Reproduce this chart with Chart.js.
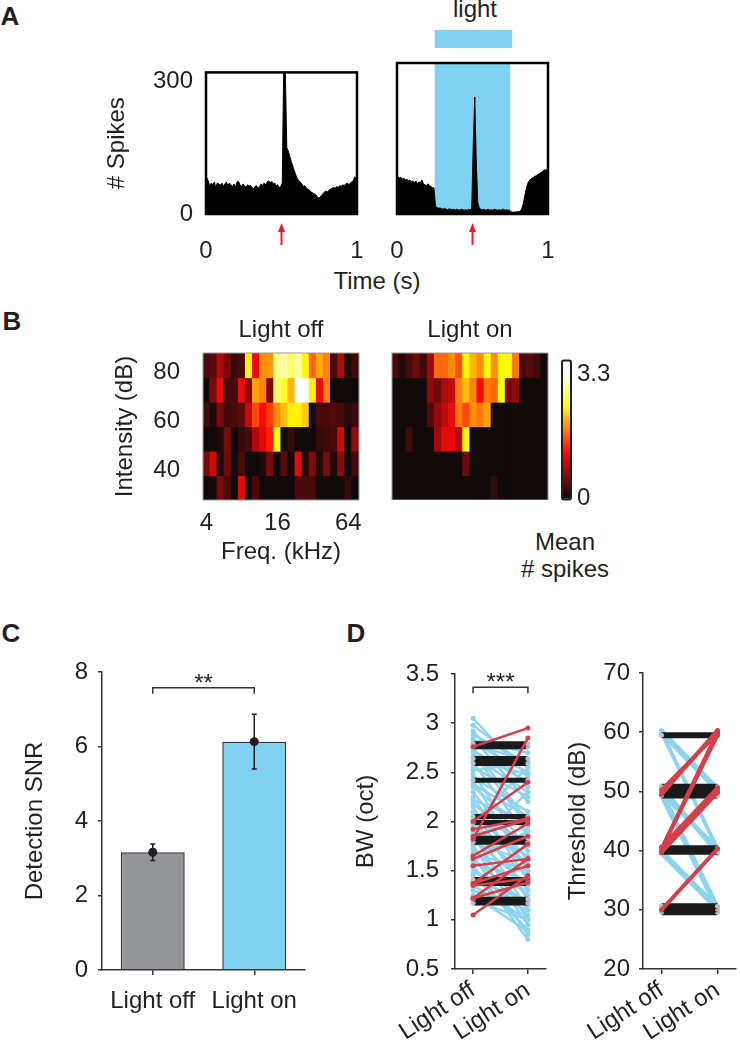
<!DOCTYPE html>
<html>
<head>
<meta charset="utf-8">
<title>Light effects on auditory responses</title>
<script src="https://cdn.jsdelivr.net/npm/chart.js@4.4.1/dist/chart.umd.min.js"></script>
<style>
  html, body { margin: 0; padding: 0; background: #fff; }
  #fig { position: relative; width: 740px; height: 1050px; overflow: hidden;
         font-family: "Liberation Sans", Arial, Helvetica, sans-serif; color: #231f20; }
  #fig canvas { position: absolute; }
  .lbl { position: absolute; font-size: 24px; line-height: 1; white-space: nowrap; transform: translate(-50%, -50%); }
  .panel { position: absolute; font-size: 26px; font-weight: bold; line-height: 1; transform: translate(-50%, -50%); }
</style>
</head>
<body>
<div id="fig">
  <div class="panel" style="left:10px; top:16px">A</div>
  <div class="panel" style="left:12px; top:321px">B</div>
  <div class="panel" style="left:11px; top:633px">C</div>
  <div class="panel" style="left:356px; top:633px">D</div>

  <div class="lbl" style="left:475px; top:9px">light</div>
  <div class="lbl" style="left:377px; top:281px">Time (s)</div>
  <div class="lbl" style="left:565px; top:542px">Mean</div>
  <div class="lbl" style="left:565px; top:569px"># spikes</div>

  <canvas id="psthOff" width="275" height="225" style="left:95px; top:45px"></canvas>
  <canvas id="psthOn" width="190" height="270" style="left:380px; top:0px"></canvas>
  <canvas id="tuneOff" width="265" height="256" style="left:100px; top:314px"></canvas>
  <canvas id="tuneOn" width="170" height="186" style="left:380px; top:314px"></canvas>
  <canvas id="colorBar" width="80" height="180" style="left:540px; top:340px"></canvas>
  <canvas id="snrChart" width="320" height="450" style="left:0px; top:600px"></canvas>
  <canvas id="bwChart" width="215" height="450" style="left:340px; top:600px"></canvas>
  <canvas id="thrChart" width="180" height="450" style="left:560px; top:600px"></canvas>
</div>

<script>
// ---------- data ----------

// A: PSTHs, 10 ms bins over 1 s
const binWidth = 0.01;
const timeTicks = [0, 1];
const spikeTicks = [0, 300];
const soundOnset = 0.5;
const lightWindow = [0.25, 0.75];
const psthLightOff = [
  82, 75, 62, 70, 66, 72, 60, 70, 68, 65,
  70, 63, 68, 72, 64, 70, 66, 62, 68, 60,
  72, 74, 66, 62, 68, 64, 60, 66, 63, 65,
  60, 56, 62, 64, 58, 62, 68, 64, 70, 66,
  72, 75, 70, 74, 68, 70, 64, 66, 60, 62,
  70, 340, 330, 150, 142, 130, 118, 108, 98, 88,
  80, 75, 72, 68, 62, 64, 58, 56, 54, 50,
  48, 46, 44, 40, 36, 38, 42, 46, 50, 52,
  50, 54, 56, 58, 60, 58, 62, 60, 64, 62,
  66, 64, 68, 70, 66, 70, 72, 76, 84, 80
];
const psthLightOn = [
  80, 76, 78, 74, 76, 72, 74, 70, 72, 68,
  70, 66, 70, 64, 68, 66, 72, 64, 62, 60,
  64, 60, 58, 56, 55, 16, 14, 12, 13, 11,
  10, 12, 10, 9, 11, 10, 9, 10, 8, 10,
  9, 8, 10, 9, 8, 9, 8, 10, 9, 12,
  150, 248, 110, 25, 12, 10, 9, 10, 8, 9,
  10, 8, 9, 8, 10, 9, 8, 9, 8, 9,
  10, 8, 9, 8, 8, 5, 4, 4, 4, 5,
  5, 6, 10, 20, 36, 52, 64, 70, 74, 76,
  78, 80, 82, 84, 86, 88, 90, 94, 92, 96
];

// B: frequency-intensity tuning (mean # spikes), rows from loudest to softest
const freqLabels = ['4', '4.6', '5.3', '6.1', '7', '8', '9.2', '10.6', '12.1', '13.9', '16',
                    '18.4', '21.1', '24.3', '27.9', '32', '36.8', '42.2', '48.5', '55.7', '64', '73.5'];
const freqTickLabels = ['4', '16', '64'];
const intensities = [83, 73, 63, 53, 43, 33];
const intensityTicks = [40, 60, 80];
const tuningLightOff = [
  [0.3, 0.4, 0.8, 0.55, 0.2, 0.3, 2.4, 1.15, 1.9, 1.95, 2.9, 3.0, 2.8, 3.0, 2.45, 1.7, 2.05, 1.85, 0.3, 0.8, 0.1, 0.25],
  [0.02, 0.55, 1.15, 0.3, 0.3, 1.15, 0.6, 2.0, 1.85, 0.6, 2.8, 2.6, 2.1, 3.3, 3.3, 2.4, 1.15, 1.85, 0.02, 0.02, 0.02, 0.02],
  [0.25, 0.1, 0.55, 0.25, 0.3, 0.4, 0.95, 1.55, 1.2, 1.5, 1.9, 2.15, 2.4, 2.4, 2.2, 0.02, 0.3, 0.3, 0.35, 0.3, 0.15, 0.25],
  [0.02, 0.02, 0.1, 0.55, 0.02, 0.2, 0.3, 0.85, 1.1, 1.35, 2.45, 0.02, 0.2, 0.02, 0.02, 0.02, 0.2, 0.25, 0.3, 1.0, 0.02, 0.7],
  [0.55, 1.0, 0.1, 0.5, 0.02, 0.3, 0.02, 0.02, 0.1, 0.55, 0.02, 0.35, 0.02, 1.1, 0.1, 0.6, 0.1, 0.55, 0.1, 0.65, 0.02, 0.3],
  [0.02, 0.02, 0.55, 0.3, 0.02, 1.1, 0.02, 0.3, 0.02, 0.02, 0.02, 0.02, 0.02, 0.3, 0.3, 0.3, 0.02, 0.02, 0.02, 0.02, 0.2, 0.02]
];
const tuningLightOn = [
  [0.3, 0.1, 0.3, 0.5, 0.25, 0.75, 1.7, 1.7, 1.9, 1.6, 2.45, 2.1, 1.9, 2.45, 1.9, 2.45, 2.45, 1.8, 0.3, 0.35, 0.25, 0.02],
  [0.02, 0.02, 0.02, 0.02, 0.02, 0.65, 0.5, 0.8, 0.95, 1.85, 2.15, 1.85, 1.2, 1.8, 1.7, 2.45, 0.55, 0.65, 0.02, 0.02, 0.02, 0.02],
  [0.02, 0.02, 0.02, 0.02, 0.02, 0.35, 0.7, 0.9, 1.15, 1.8, 1.55, 1.9, 1.8, 2.0, 0.02, 0.02, 0.02, 0.02, 0.02, 0.02, 0.02, 0.02],
  [0.02, 0.02, 0.25, 0.02, 0.02, 0.02, 0.75, 1.1, 1.1, 0.85, 2.45, 0.02, 0.02, 0.02, 0.02, 0.02, 0.02, 0.02, 0.02, 0.02, 0.02, 0.02],
  [0.02, 0.02, 0.02, 0.02, 0.02, 0.02, 0.02, 0.02, 0.02, 0.02, 0.5, 0.02, 0.02, 0.02, 0.02, 0.02, 0.02, 0.02, 0.02, 0.02, 0.02, 0.02],
  [0.02, 0.02, 0.02, 0.02, 0.02, 0.02, 0.02, 0.02, 0.02, 0.02, 0.02, 0.02, 0.02, 0.02, 0.2, 0.02, 0.02, 0.02, 0.02, 0.02, 0.02, 0.02]
];
const colorMax = 3.3;
const colorTicks = [0, 3.3];

// C: detection SNR
const conditions = ['Light off', 'Light on'];
const snrMean = [3.16, 6.13];
const snrSem = [0.22, 0.735];

// D: bandwidth (oct), one pair per unit
const bwBlueOff = [3.05, 2.98, 2.92, 2.88, 2.85, 2.83, 2.80, 2.78, 2.75, 2.72,
                   2.70, 2.66, 2.62, 2.60, 2.55, 2.52, 2.48, 2.45, 2.42, 2.38,
                   2.35, 2.30, 2.25, 2.22, 2.18, 2.15, 2.10, 2.05, 2.02, 1.98,
                   1.95, 1.90, 1.86, 1.82, 1.78, 1.75, 1.72, 1.68, 1.65, 1.62,
                   1.58, 1.55, 1.52, 1.48, 1.45, 1.40, 1.35, 1.30, 1.25, 1.20,
                   1.75, 2.00, 1.60];
const bwBlueOn = [2.45, 2.55, 2.35, 2.60, 2.20, 2.70, 2.50, 2.62, 2.00, 2.40,
                  1.95, 2.30, 2.48, 1.85, 2.25, 2.60, 1.70, 2.10, 1.50, 2.05,
                  1.90, 1.60, 1.40, 2.00, 1.75, 1.20, 1.55, 1.80, 1.30, 1.10,
                  1.65, 1.45, 1.00, 1.35, 1.60, 0.95, 1.25, 1.50, 0.85, 1.15,
                  1.40, 0.80, 1.05, 1.30, 0.90, 1.20, 1.00, 1.10, 0.88, 1.00,
                  2.30, 2.55, 1.90];
const bwRedOff = [2.76, 1.82, 2.00, 1.85, 1.65, 1.37, 1.22, 1.05, 1.37, 1.92, 1.55, 1.35, 1.22, 1.62];
const bwRedOn = [2.95, 2.85, 2.40, 2.02, 1.98, 1.77, 1.62, 1.45, 1.55, 2.03, 1.62, 1.42, 1.38, 1.85];
const bwSame = [2.79, 2.76, 2.64, 2.59, 2.42, 2.05, 1.99, 1.83, 1.79, 1.41, 1.37, 1.21, 1.17];

// D: threshold (dB)
const thrBlueOff = [60.3, 59.8, 60.0, 50.5, 49.5, 50.0, 49.2, 40.0, 39.5, 50.8];
const thrBlueOn = [50.5, 50.0, 40.3, 40.0, 40.5, 30.5, 30.0, 30.5, 30.0, 39.5];
const thrRedOff = [49.5, 50.2, 40.2, 40.0, 39.7, 40.6, 30.0, 40.3];
const thrRedOn = [60.3, 59.8, 60.0, 50.3, 49.8, 50.6, 40.3, 59.5];
const thrSame = [59.5, 50.8, 50.3, 49.8, 49.3, 40.4, 39.8, 30.6, 30.1, 29.6];

// ---------- styling ----------
const ink = '#231f20';
const axisGray = '#333333';
const lightBlue = '#80d2f2';
const lineBlue = '#8fd4ef';
const lineRed = '#d2414b';
const arrowRed = '#ed1c24';

Chart.defaults.font.family = '"Liberation Sans", Arial, Helvetica, sans-serif';
Chart.defaults.font.size = 24;
Chart.defaults.color = ink;
Chart.defaults.animation = false;
Chart.defaults.responsive = false;
Chart.defaults.devicePixelRatio = 1;
Chart.defaults.plugins.legend.display = false;
Chart.defaults.plugins.tooltip.enabled = false;

// MATLAB-like "hot" colormap
function hot(v) {
  const f = Math.max(0, Math.min(1, v / colorMax));
  const r = Math.min(1, f / 0.375);
  const g = Math.max(0, Math.min(1, (f - 0.375) / 0.375));
  const b = Math.max(0, Math.min(1, (f - 0.75) / 0.25));
  return 'rgb(' + Math.round(14 + 241 * r) + ',' + Math.round(10 + 245 * g) + ',' + Math.round(10 + 245 * b) + ')';
}

const fixedTicks = list => scale => { scale.ticks = list.map(v => ({ value: v })); };
const fixWidth = w => s => { s.width = w; };
// fixed height, and no extra side room for the end labels
const fixHeight = h => s => { s.height = h; s.paddingLeft = 0; s.paddingRight = 0; };

// ---------- plugins ----------
const framePlugin = {
  id: 'frame',
  afterDatasetsDraw(chart, args, opts) {
    const { ctx, chartArea: a } = chart;
    ctx.save();
    ctx.strokeStyle = opts.color;
    ctx.lineWidth = opts.width;
    ctx.strokeRect(a.left, a.top, a.right - a.left, a.bottom - a.top);
    ctx.restore();
  }
};

const stimArrowPlugin = {
  id: 'stimArrow',
  afterDraw(chart, args, opts) {
    const { ctx, chartArea } = chart;
    const x = chart.scales.x.getPixelForValue(opts.at);
    const y0 = chartArea.bottom + 9;
    ctx.save();
    ctx.strokeStyle = arrowRed;
    ctx.fillStyle = arrowRed;
    ctx.lineWidth = 2;
    ctx.beginPath();
    ctx.moveTo(x, y0 + 6);
    ctx.lineTo(x, y0 + 22);
    ctx.stroke();
    ctx.beginPath();
    ctx.moveTo(x, y0);
    ctx.lineTo(x - 3.5, y0 + 9);
    ctx.lineTo(x + 3.5, y0 + 9);
    ctx.closePath();
    ctx.fill();
    ctx.restore();
  }
};

const lightPlugin = {
  id: 'light',
  beforeDatasetsDraw(chart, args, opts) {
    const { ctx, chartArea: a } = chart;
    const x0 = chart.scales.x.getPixelForValue(opts.window[0]);
    const x1 = chart.scales.x.getPixelForValue(opts.window[1]);
    ctx.save();
    ctx.fillStyle = lightBlue;
    ctx.fillRect(x0, a.top, x1 - x0, a.bottom - a.top);
    ctx.fillRect(x0, opts.barTop, x1 - x0 + 2, opts.barHeight);
    ctx.restore();
  }
};

const colorBarPlugin = {
  id: 'colorBar',
  beforeDraw(chart) {
    const { ctx, chartArea: a } = chart;
    const y = chart.scales.y;
    const grad = ctx.createLinearGradient(0, a.bottom, 0, a.top);
    const span = a.bottom - a.top;
    const stop = v => Math.min(1, (a.bottom - y.getPixelForValue(v)) / span);
    grad.addColorStop(0, hot(0));
    grad.addColorStop(stop(0.375 * colorMax), hot(0.375 * colorMax));
    grad.addColorStop(stop(0.75 * colorMax), hot(0.75 * colorMax));
    grad.addColorStop(stop(colorMax), hot(colorMax));
    grad.addColorStop(1, hot(colorMax));
    ctx.save();
    ctx.fillStyle = grad;
    ctx.fillRect(a.left, a.top, a.right - a.left, span);
    ctx.strokeStyle = ink;
    ctx.lineWidth = 2;
    ctx.beginPath();
    ctx.roundRect(a.left - 1, a.top - 1, a.right - a.left + 2, span + 2, 2);
    ctx.stroke();
    ctx.restore();
  }
};

const errorBarPlugin = {
  id: 'errorBars',
  afterDatasetsDraw(chart, args, opts) {
    const { ctx } = chart;
    const xs = chart.scales.x, ys = chart.scales.y;
    ctx.save();
    ctx.strokeStyle = ink;
    ctx.lineWidth = 1.5;
    opts.mean.forEach((m, i) => {
      const x = xs.getPixelForValue(i);
      const top = ys.getPixelForValue(m + opts.err[i]);
      const bot = ys.getPixelForValue(m - opts.err[i]);
      ctx.beginPath();
      ctx.moveTo(x, top); ctx.lineTo(x, bot);
      ctx.moveTo(x - 2.5, top); ctx.lineTo(x + 2.5, top);
      ctx.moveTo(x - 2.5, bot); ctx.lineTo(x + 2.5, bot);
      ctx.stroke();
    });
    ctx.restore();
  }
};

const bracketPlugin = {
  id: 'bracket',
  afterDraw(chart, args, opts) {
    const { ctx } = chart;
    const x0 = chart.scales.x.getPixelForValue(opts.from);
    const x1 = chart.scales.x.getPixelForValue(opts.to);
    const y = chart.scales.y.getPixelForValue(opts.y);
    ctx.save();
    ctx.strokeStyle = axisGray;
    ctx.lineWidth = 1.5;
    ctx.beginPath();
    ctx.moveTo(x0, y + 6); ctx.lineTo(x0, y); ctx.lineTo(x1, y); ctx.lineTo(x1, y + 6);
    ctx.stroke();
    ctx.fillStyle = ink;
    ctx.font = '24px "Liberation Sans", Arial, sans-serif';
    ctx.textAlign = 'center';
    ctx.textBaseline = 'alphabetic';
    ctx.fillText(opts.text, (x0 + x1) / 2, y + 3);
    ctx.restore();
  }
};

// ---------- A: PSTHs ----------
function psthConfig(values, showY, padding, extraPlugins, pluginOpts) {
  return {
    type: 'line',
    data: {
      datasets: [{
        data: values.map((v, i) => ({ x: (i + 0.5) * binWidth, y: v })),
        borderColor: '#000', backgroundColor: '#000', borderWidth: 1,
        fill: 'origin', pointRadius: 0, tension: 0
      }]
    },
    options: {
      layout: { padding },
      scales: {
        x: {
          type: 'linear', min: 0, max: 1,
          grid: { display: false, drawTicks: false }, border: { display: false },
          afterBuildTicks: fixedTicks(timeTicks),
          ticks: { padding: 23, maxRotation: 0 },
          afterFit: fixHeight(56)
        },
        y: {
          display: showY, min: 0, max: 320,
          grid: { display: false, drawTicks: false }, border: { display: false },
          afterBuildTicks: fixedTicks(spikeTicks),
          ticks: { padding: 13 },
          afterFit: showY ? fixWidth(111) : undefined,
          title: { display: true, text: '# Spikes', padding: { top: 8, bottom: 0 } }
        }
      },
      plugins: Object.assign({ frame: { color: '#000', width: 2.5 }, stimArrow: { at: soundOnset } }, pluginOpts)
    },
    plugins: [framePlugin, stimArrowPlugin].concat(extraPlugins)
  };
}

new Chart(document.getElementById('psthOff'),
  psthConfig(psthLightOff, true, { left: 0, top: 18, right: 13, bottom: 0 }, [], {}));
new Chart(document.getElementById('psthOn'),
  psthConfig(psthLightOn, false, { left: 17, top: 63, right: 22, bottom: 0 }, [lightPlugin],
    { light: { window: lightWindow, barTop: 30, barHeight: 18 } }));

// ---------- B: tuning maps ----------
function tuningConfig(rows, title, showAxes, padding) {
  return {
    type: 'bar',
    data: {
      labels: freqLabels,
      datasets: rows.map((row, r) => ({
        data: row.map(() => [intensities[r] - 5, intensities[r] + 5]),
        backgroundColor: row.map(hot),
        borderWidth: 0, inflateAmount: 0.6, grouped: false, barPercentage: 1, categoryPercentage: 1
      }))
    },
    options: {
      layout: { padding },
      scales: {
        x: {
          display: showAxes,
          grid: { display: false, drawTicks: false }, border: { display: false },
          ticks: {
            autoSkip: false, maxRotation: 0, padding: 9,
            callback: (v, i) => freqTickLabels.includes(freqLabels[i]) ? freqLabels[i] : ''
          },
          afterFit: showAxes ? fixHeight(70) : undefined,
          title: { display: true, text: 'Freq. (kHz)', padding: { top: 0, bottom: 3 } }
        },
        y: {
          display: showAxes, min: 28, max: 88,
          grid: { display: false, drawTicks: false }, border: { display: false },
          afterBuildTicks: fixedTicks(intensityTicks),
          ticks: { padding: 23 },
          afterFit: showAxes ? fixWidth(103) : undefined,
          title: { display: true, text: 'Intensity (dB)', padding: { top: 11, bottom: 0 } }
        }
      },
      plugins: {
        title: {
          display: true, text: title, fullSize: false,
          font: { size: 24, weight: 'normal' }, padding: { top: 2, bottom: 8.2 }
        },
        frame: { color: '#9a9a9a', width: 1 }
      }
    },
    plugins: [framePlugin]
  };
}

new Chart(document.getElementById('tuneOff'),
  tuningConfig(tuningLightOff, 'Light off', true, { left: 0, top: 0, right: 6, bottom: 0 }));
new Chart(document.getElementById('tuneOn'),
  tuningConfig(tuningLightOn, 'Light on', false, { left: 12, top: 0, right: 2, bottom: 0 }));

new Chart(document.getElementById('colorBar'), {
  type: 'bar',
  data: { labels: [''], datasets: [] },
  options: {
    layout: { padding: { left: 23, top: 13, right: 0, bottom: 16 } },
    scales: {
      x: { display: false },
      y: {
        position: 'right', min: 0, max: 3.65,
        grid: { display: false, drawTicks: false }, border: { display: false },
        afterBuildTicks: fixedTicks(colorTicks),
        ticks: { padding: 7, callback: v => String(v) },
        afterFit: fixWidth(50)
      }
    }
  },
  plugins: [colorBarPlugin]
});

// ---------- C: detection SNR ----------
new Chart(document.getElementById('snrChart'), {
  type: 'bar',
  data: {
    labels: conditions,
    datasets: [
      {
        type: 'line', data: snrMean, showLine: false, pointRadius: 4.5,
        pointBackgroundColor: ink, pointBorderWidth: 0, order: 0
      },
      {
        data: snrMean, backgroundColor: ['#939598', lightBlue], borderColor: axisGray,
        borderWidth: 1.5, barPercentage: 0.63, categoryPercentage: 1, order: 1
      }
    ]
  },
  options: {
    layout: { padding: { left: 0, top: 72, right: 15, bottom: 0 } },
    scales: {
      x: {
        grid: { offset: false, drawOnChartArea: false, tickLength: 5, color: axisGray, lineWidth: 1.5 },
        border: { display: true, color: axisGray, width: 1.5 },
        ticks: { padding: 12, maxRotation: 0 },
        afterFit: fixHeight(80)
      },
      y: {
        min: 0, max: 8,
        grid: { drawOnChartArea: false, tickLength: 4, color: axisGray, lineWidth: 1.5 },
        border: { display: true, color: axisGray, width: 1.5 },
        ticks: { stepSize: 2, padding: 10 },
        afterFit: fixWidth(102),
        title: { display: true, text: 'Detection SNR', padding: { top: 21, bottom: 0 } }
      }
    },
    plugins: {
      errorBars: { mean: snrMean, err: snrSem },
      bracket: { from: 0, to: 1, y: 7.58, text: '**' }
    }
  },
  plugins: [errorBarPlugin, bracketPlugin]
});

// ---------- D: paired changes ----------
function pairSets(off, on, color, width, pointColor, order) {
  return off.map((v, i) => ({
    data: [{ x: 0, y: v }, { x: 1, y: on[i] }],
    borderColor: color, borderWidth: width, pointRadius: 2.5,
    pointBackgroundColor: pointColor, pointBorderWidth: 0, order
  }));
}

function pairedConfig(blueOff, blueOn, redOff, redOn, same, yOpts, widths, padding, yWidth, bracket) {
  return {
    type: 'line',
    data: {
      datasets: [].concat(
        pairSets(blueOff, blueOn, lineBlue, widths.blue, lineBlue, 2),
        pairSets(same, same, '#1a1a1a', widths.same, '#bcbec0', 1),
        pairSets(redOff, redOn, lineRed, widths.red, lineRed, 0)
      )
    },
    options: {
      layout: { padding },
      scales: {
        x: {
          type: 'linear', min: -0.33, max: 1.33,
          grid: { drawOnChartArea: false, tickLength: 5, color: axisGray, lineWidth: 1.5 },
          border: { display: true, color: axisGray, width: 1.5 },
          afterBuildTicks: fixedTicks([0, 1]),
          ticks: { minRotation: 33, maxRotation: 33, autoSkip: false, padding: 2, callback: v => conditions[v] },
          afterFit: fixHeight(81)
        },
        y: Object.assign({
          grid: { drawOnChartArea: false, tickLength: 4, color: axisGray, lineWidth: 1.5 },
          border: { display: true, color: axisGray, width: 1.5 },
          afterFit: fixWidth(yWidth)
        }, yOpts)
      },
      plugins: bracket ? { bracket } : {}
    },
    plugins: bracket ? [bracketPlugin] : []
  };
}

new Chart(document.getElementById('bwChart'), pairedConfig(
  bwBlueOff, bwBlueOn, bwRedOff, bwRedOn, bwSame,
  {
    min: 0.5, max: 3.5,
    ticks: { stepSize: 0.5, padding: 12, callback: v => String(v) },
    title: { display: true, text: 'BW (oct)', padding: { top: 12, bottom: 0 } }
  },
  { blue: 2.5, red: 2.5, same: 5 },
  { left: 0, top: 74, right: 9, bottom: 0 }, 115,
  { from: 0, to: 1, y: 3.365, text: '***' }
));

new Chart(document.getElementById('thrChart'), pairedConfig(
  thrBlueOff, thrBlueOn, thrRedOff, thrRedOn, thrSame,
  {
    min: 20, max: 70,
    ticks: { stepSize: 10, padding: 9 },
    title: { display: true, text: 'Threshold (dB)', padding: { top: 4, bottom: 0 } }
  },
  { blue: 4, red: 4, same: 6 },
  { left: 0, top: 73, right: 0, bottom: 0 }, 83,
  null
));
</script>
</body>
</html>
